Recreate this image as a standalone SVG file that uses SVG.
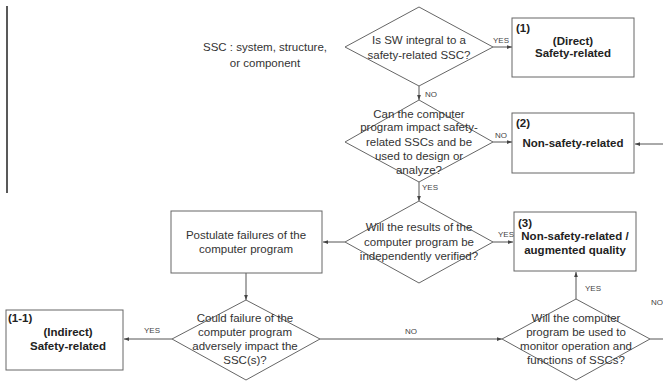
<svg xmlns="http://www.w3.org/2000/svg" width="663" height="382" viewBox="0 0 663 382">
<defs>
<style>
.n{fill:#fff;stroke:#666;stroke-width:1}
.t{font-family:"Liberation Sans",Arial,sans-serif;font-size:11.5px;fill:#333;text-anchor:middle}
.b{font-family:"Liberation Sans",Arial,sans-serif;font-size:11.5px;font-weight:bold;fill:#222;text-anchor:middle}
.bl{font-family:"Liberation Sans",Arial,sans-serif;font-size:11.5px;font-weight:bold;fill:#222}
.l{font-family:"Liberation Sans",Arial,sans-serif;font-size:8px;fill:#444}
.c{fill:none;stroke:#555;stroke-width:1}
</style>
<marker id="a" viewBox="0 0 8 8" refX="8" refY="4" markerWidth="5" markerHeight="5" orient="auto" markerUnits="userSpaceOnUse">
<path d="M0,1 L8,4 L0,7 Z" fill="#444"/>
</marker>
</defs>
<rect width="663" height="382" fill="#fff"/>
<line x1="7" y1="6" x2="7" y2="193" stroke="#222" stroke-width="1.5"/>
<text class="t" x="265" y="51">SSC : system, structure,</text>
<text class="t" x="265" y="67">or component</text>

<g id="connectors">
<line class="c" x1="493" y1="47" x2="512" y2="47" marker-end="url(#a)"/>
<line class="c" x1="419" y1="86" x2="419" y2="100" marker-end="url(#a)"/>
<line class="c" x1="493" y1="142" x2="512" y2="142" marker-end="url(#a)"/>
<line class="c" x1="663" y1="144" x2="635" y2="144" marker-end="url(#a)"/>
<line class="c" x1="419" y1="182" x2="419" y2="201" marker-end="url(#a)"/>
<line class="c" x1="493" y1="242" x2="513" y2="242" marker-end="url(#a)"/>
<line class="c" x1="345" y1="242" x2="323" y2="242" marker-end="url(#a)"/>
<line class="c" x1="246" y1="273" x2="246" y2="300" marker-end="url(#a)"/>
<line class="c" x1="172" y1="339" x2="124" y2="339" marker-end="url(#a)"/>
<line class="c" x1="320" y1="339" x2="502" y2="339" marker-end="url(#a)"/>
<line class="c" x1="576" y1="299" x2="576" y2="272" marker-end="url(#a)"/>
<line class="c" x1="650" y1="339" x2="663" y2="339"/>
<text class="l" x="493" y="43">YES</text>
<text class="l" x="425" y="97">NO</text>
<text class="l" x="495" y="138">NO</text>
<text class="l" x="422" y="190">YES</text>
<text class="l" x="498" y="237">YES</text>
<text class="l" x="144" y="333">YES</text>
<text class="l" x="405" y="334">NO</text>
<text class="l" x="585" y="291">YES</text>
<text class="l" x="651" y="305">NO</text>
</g>

<g id="d1">
<polygon class="n" points="419,7 493,47 419,86 345,47"/>
<text class="t" x="419" y="44">Is SW integral to a</text>
<text class="t" x="419" y="59">safety-related SSC?</text>
</g>
<g id="b1">
<rect class="n" x="512" y="18" width="122" height="59"/>
<text class="bl" x="516" y="32">(1)</text>
<text class="b" x="573" y="45">(Direct)</text>
<text class="b" x="573" y="57">Safety-related</text>
</g>
<g id="d2">
<polygon class="n" points="419,100 493,142 419,182 345,142"/>
<text class="t" x="419" y="118">Can the computer</text>
<text class="t" x="419" y="131">program impact safety-</text>
<text class="t" x="419" y="146">related SSCs and be</text>
<text class="t" x="419" y="160">used to design or</text>
<text class="t" x="419" y="174">analyze?</text>
</g>
<g id="b2">
<rect class="n" x="512" y="113" width="122" height="60"/>
<text class="bl" x="516" y="127">(2)</text>
<text class="b" x="573" y="147">Non-safety-related</text>
</g>
<g id="d3">
<polygon class="n" points="419,201 493,242 419,283 345,242"/>
<text class="t" x="419" y="231">Will the results of the</text>
<text class="t" x="419" y="246">computer program be</text>
<text class="t" x="419" y="260">independently verified?</text>
</g>
<g id="b3">
<rect class="n" x="514" y="212" width="122" height="59"/>
<text class="bl" x="518" y="227">(3)</text>
<text class="b" x="575" y="240">Non-safety-related /</text>
<text class="b" x="575" y="254">augmented quality</text>
</g>
<g id="bp">
<rect class="n" x="171" y="211" width="151" height="62"/>
<text class="t" x="246" y="239">Postulate failures of the</text>
<text class="t" x="246" y="253">computer program</text>
</g>
<g id="d5">
<polygon class="n" points="246,300 320,339 246,380 172,339"/>
<text class="t" x="245" y="322">Could failure of the</text>
<text class="t" x="245" y="336">computer program</text>
<text class="t" x="245" y="350">adversely impact the</text>
<text class="t" x="245" y="364">SSC(s)?</text>
</g>
<g id="b11">
<rect class="n" x="6" y="310" width="117" height="60"/>
<text class="bl" x="8" y="322">(1-1)</text>
<text class="b" x="68" y="336">(Indirect)</text>
<text class="b" x="68" y="350">Safety-related</text>
</g>
<g id="d4">
<polygon class="n" points="576,299 650,339 576,380 502,339"/>
<text class="t" x="576" y="322">Will the computer</text>
<text class="t" x="576" y="336">program be used to</text>
<text class="t" x="576" y="350">monitor operation and</text>
<text class="t" x="576" y="364">functions of SSCs?</text>
</g>
</svg>
